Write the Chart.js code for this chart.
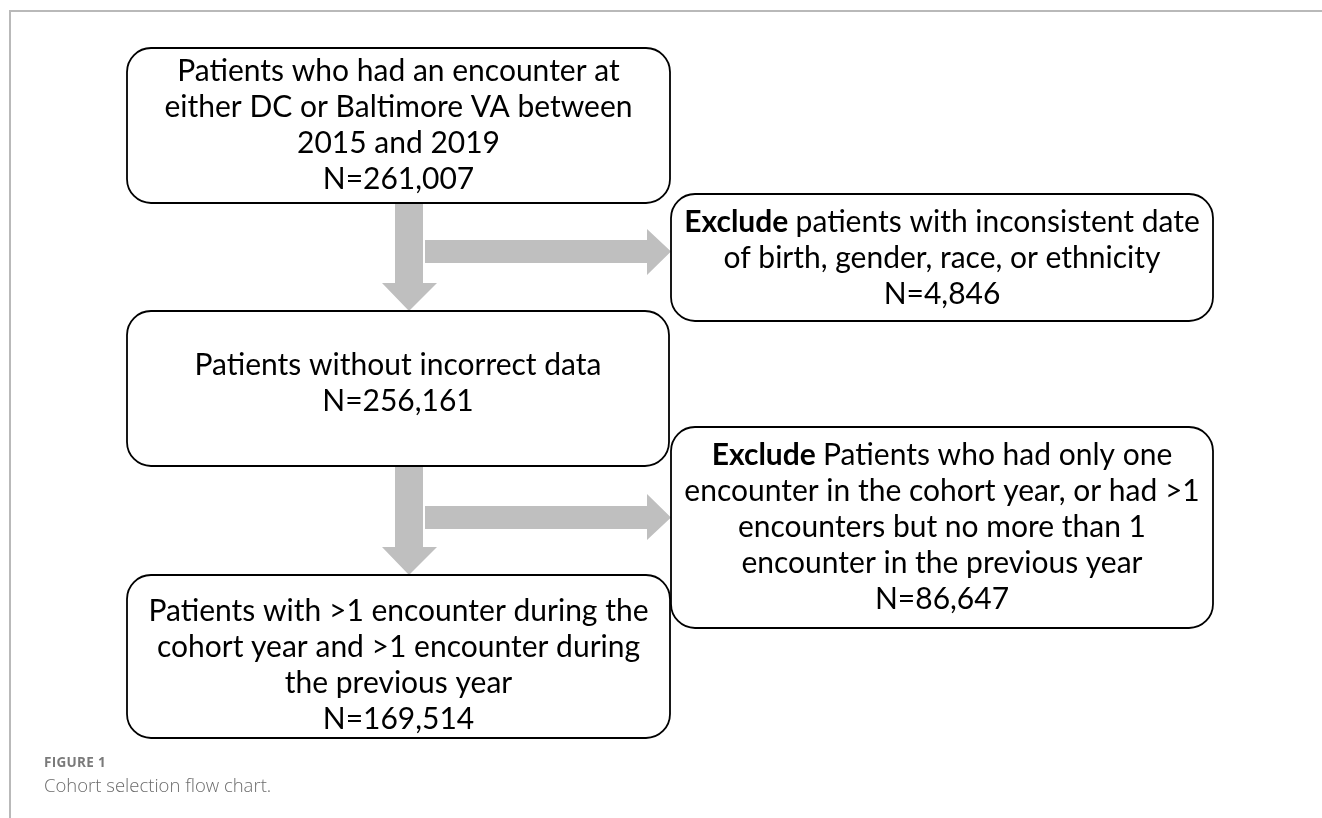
<!DOCTYPE html>
<html>
<head>
<meta charset="utf-8">
<script src="https://cdn.jsdelivr.net/npm/chart.js@4"></script>
<style>
  body { margin: 0; background: #fff; }
  #wrap { position: relative; width: 1322px; height: 818px; }
  #caption { position: absolute; left: 44px; top: 753px; font-family: "Open Sans", sans-serif; color: #6b6b6b; }
  #caption .fig { font-size: 13.5px; font-weight: 700; letter-spacing: 0.3px; color: #7a7a7a; }
  #caption .txt { font-size: 18.5px; font-weight: 300; margin-top: 1px; }
</style>
</head>
<body>
<div id="wrap">
  <canvas id="grafico" width="1322" height="818"></canvas>
  <div id="caption">
    <div class="fig">FIGURE 1</div>
    <div class="txt">Cohort selection flow chart.</div>
  </div>
</div>
<script>
// etapas do fluxograma (texto) e contagens
const etapas = [
    ['Patients who had an encounter at', 'either DC or Baltimore VA between', '2015 and 2019'],
    ['patients with inconsistent date', 'of birth, gender, race, or ethnicity'],
    ['Patients without incorrect data'],
    ['Patients who had only one', 'encounter in the cohort year, or had >1', 'encounters but no more than 1', 'encounter in the previous year'],
    ['Patients with >1 encounter during the', 'cohort year and >1 encounter during', 'the previous year']
];
const negrito = ['', 'Exclude', '', 'Exclude', ''];
const contagens = [261007, 4846, 256161, 86647, 169514];

// posicoes em unidades das escalas (0..1322 x 0..818)
const caixas = [
    { x0: 127, y0: 48, x1: 670, y1: 203, ty: 71 },
    { x0: 671, y0: 194, x1: 1213, y1: 321, ty: 222 },
    { x0: 127, y0: 311, x1: 669, y1: 466, ty: 365 },
    { x0: 671, y0: 427, x1: 1213, y1: 628, ty: 455 },
    { x0: 127, y0: 575, x1: 670, y1: 738, ty: 611 }
];
const setasBaixo = [
    { xa: 395, xb: 423, ya: 203, yh: 283, yt: 311, ha: 382, hb: 437 },
    { xa: 395, xb: 423, ya: 466, yh: 547, yt: 575, ha: 382, hb: 437 }
];
const setasDireita = [
    { ya: 240, yb: 263, xa: 425, xh: 647, xt: 671, ha: 229, hb: 275 },
    { ya: 506, yb: 529, xa: 425, xh: 647, xt: 671, ha: 494, hb: 540 }
];

const FONTE = '"Lato", "Open Sans", sans-serif';
const TAM = 30;
const ENTRE = 36;

const fluxo = {
    id: 'fluxo',
    afterDatasetsDraw(chart) {
        const ctx = chart.ctx;
        const sx = chart.scales.x, sy = chart.scales.y;
        const px = v => sx.getPixelForValue(v);
        const py = v => sy.getPixelForValue(v);
        ctx.save();

        // moldura
        ctx.strokeStyle = '#b9b9b9';
        ctx.lineWidth = 2;
        ctx.beginPath();
        ctx.moveTo(px(1322), py(11));
        ctx.lineTo(px(10), py(11));
        ctx.lineTo(px(10), py(818));
        ctx.stroke();

        // setas
        ctx.fillStyle = '#bfbfbf';
        setasBaixo.forEach(s => {
            ctx.beginPath();
            ctx.moveTo(px(s.xa), py(s.ya));
            ctx.lineTo(px(s.xb), py(s.ya));
            ctx.lineTo(px(s.xb), py(s.yh));
            ctx.lineTo(px(s.hb), py(s.yh));
            ctx.lineTo(px((s.xa + s.xb) / 2), py(s.yt));
            ctx.lineTo(px(s.ha), py(s.yh));
            ctx.lineTo(px(s.xa), py(s.yh));
            ctx.closePath();
            ctx.fill();
        });
        setasDireita.forEach(s => {
            ctx.beginPath();
            ctx.moveTo(px(s.xa), py(s.ya));
            ctx.lineTo(px(s.xh), py(s.ya));
            ctx.lineTo(px(s.xh), py(s.ha));
            ctx.lineTo(px(s.xt), py((s.ya + s.yb) / 2));
            ctx.lineTo(px(s.xh), py(s.hb));
            ctx.lineTo(px(s.xh), py(s.yb));
            ctx.lineTo(px(s.xa), py(s.yb));
            ctx.closePath();
            ctx.fill();
        });

        // caixas
        caixas.forEach((c, i) => {
            const x0 = px(c.x0), x1 = px(c.x1), y0 = py(c.y0), y1 = py(c.y1);
            ctx.beginPath();
            ctx.roundRect(x0, y0, x1 - x0, y1 - y0, 24);
            ctx.fillStyle = '#fff';
            ctx.fill();
            ctx.strokeStyle = '#000';
            ctx.lineWidth = 1.8;
            ctx.stroke();

            const linhas = etapas[i].concat(['N=' + contagens[i].toLocaleString('en-US')]);
            const cx = (x0 + x1) / 2;
            ctx.fillStyle = '#000';
            ctx.textBaseline = 'middle';
            linhas.forEach((t, k) => {
                const y = py(c.ty + k * ENTRE);
                if (k === 0 && negrito[i]) {
                    const b = negrito[i] + ' ';
                    ctx.font = 'bold ' + TAM + 'px ' + FONTE;
                    const wb = ctx.measureText(b).width;
                    ctx.font = TAM + 'px ' + FONTE;
                    const wt = ctx.measureText(t).width;
                    const inicio = cx - (wb + wt) / 2;
                    ctx.textAlign = 'left';
                    ctx.font = 'bold ' + TAM + 'px ' + FONTE;
                    ctx.fillText(b, inicio, y);
                    ctx.font = TAM + 'px ' + FONTE;
                    ctx.fillText(t, inicio + wb, y);
                } else {
                    ctx.font = TAM + 'px ' + FONTE;
                    ctx.textAlign = 'center';
                    ctx.fillText(t, cx, y);
                }
            });
        });
        ctx.restore();
    }
};

new Chart(document.getElementById('grafico').getContext('2d'), {
    type: 'scatter',
    data: {
        datasets: [{
            data: caixas.map((c, i) => ({ x: (c.x0 + c.x1) / 2, y: (c.y0 + c.y1) / 2, n: contagens[i] })),
            pointRadius: 0
        }]
    },
    options: {
        responsive: false,
        animation: false,
        events: [],
        layout: { padding: 0 },
        plugins: { legend: { display: false }, tooltip: { enabled: false } },
        scales: {
            x: { type: 'linear', min: 0, max: 1322, display: false },
            y: { type: 'linear', min: 0, max: 818, reverse: true, display: false }
        }
    },
    plugins: [fluxo]
});
</script>
</body>
</html>
